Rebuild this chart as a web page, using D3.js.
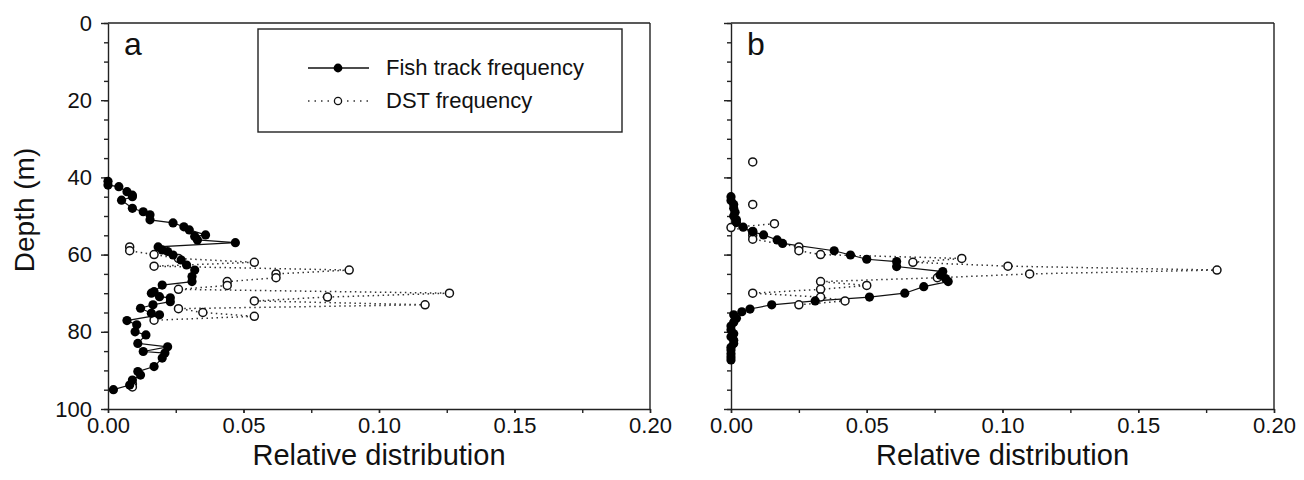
<!DOCTYPE html>
<html>
<head>
<meta charset="utf-8">
<script src="https://cdn.jsdelivr.net/npm/d3@7"></script>
<style>
  body { margin: 0; background: #fff; }
  svg { font-family: "Liberation Sans", Arial, sans-serif; }
  .axis path, .axis line { stroke: #222; stroke-width: 1.4; }
  .axis text { font-size: 22px; fill: #111; }
</style>
</head>
<body>
<svg id="chart" width="1304" height="480"></svg>
<script>
// panel a - fish track frequency (depth m, relative distribution)
var fishDepthA = [41, 42, 42.4, 43.7, 44.6, 45, 45.9, 48, 48.9, 49.7, 51, 51.8, 52.8, 53.6, 54.9, 55.3,
    56.2, 56.9, 58, 58.8, 59.2, 60.1, 61.4, 62.7, 64, 65.7, 67, 67.9, 69.6, 70, 70.9, 71.2, 72.2, 73,
    73.9, 75.2, 75.6, 77.1, 78.2, 80, 80.8, 83, 83.9, 85.1, 85.5, 86.8, 89, 90.3, 91.2, 92.5, 93.8, 95];
var fishValA = [0.000, 0.000, 0.004, 0.007, 0.009, 0.009, 0.005, 0.009, 0.013, 0.0155, 0.0155, 0.024, 0.028, 0.030, 0.036, 0.032,
    0.033, 0.047, 0.0185, 0.020, 0.022, 0.024, 0.027, 0.029, 0.032, 0.031, 0.031, 0.020, 0.017, 0.016, 0.019, 0.023, 0.023, 0.0166,
    0.012, 0.016, 0.019, 0.007, 0.0106, 0.010, 0.014, 0.011, 0.022, 0.013, 0.021, 0.020, 0.017, 0.011, 0.012, 0.009, 0.008, 0.002];

// panel a - DST frequency (null = break in line)
var dstDepthA = [58, 59, 60, 61, 62, 63, 64, 65, 66, 67, 68, 69, 70, 71, 72, 73, 74, 75, 76, 77, null, 93.5, 94.3];
var dstValA = [0.008, 0.008, 0.017, 0.026, 0.054, 0.017, 0.089, 0.062, 0.062, 0.044, 0.044, 0.026, 0.126, 0.081,
    0.054, 0.117, 0.026, 0.035, 0.054, 0.017, null, 0.009, 0.009];

// panel b - fish track frequency
var fishDepthB = [45, 46, 47, 48, 49, 50, 51, 51.7, 52.9, 54.1, 54.9, 56.2, 57.1, 59, 60.1, 61.2, 61.8, 63.1,
    64.4, 65.3, 66.2, 67, 68.3, 70, 71, 72, 73, 74.1, 74.8, 75.6, 76.5, 77.5, 78.5, 79.5, 80.5, 81.3, 82.2,
    83, 84, 84.7, 85.7, 86.5, 87.3];
var fishValB = [0.000, 0.000, 0.001, 0.001, 0.0015, 0.001, 0.002, 0.002, 0.0045, 0.008, 0.012, 0.017, 0.019, 0.038, 0.044, 0.050, 0.061, 0.061,
    0.078, 0.077, 0.079, 0.080, 0.071, 0.064, 0.051, 0.031, 0.015, 0.007, 0.004, 0.001, 0.002, 0.001, 0.000, 0.000, 0.001, 0.000, 0.001,
    0.001, 0.000, 0.000, 0.000, 0.000, 0.000];

// panel b - DST frequency
var dstDepthB = [36, null, 47, null, 52, 53, 54, 55, 56, 58, 59, 60, 61, 62, 63, 64, 65, 66, 67, 68, 69, 70, 71, 72, 73];
var dstValB = [0.008, null, 0.008, null, 0.016, 0.000, 0.008, 0.008, 0.008, 0.025, 0.025, 0.033, 0.085, 0.067, 0.102,
    0.179, 0.110, 0.076, 0.033, 0.050, 0.033, 0.008, 0.033, 0.042, 0.025];

var xTicks = [0, 0.05, 0.10, 0.15, 0.20];
var yTicks = [0, 20, 40, 60, 80, 100];

var svg = d3.select("#chart");
var yTop = 23, yBot = 409;

function zip(depths, vals) {
    return depths.map(function (d, i) { return { d: d, v: vals[i] }; });
}

function drawPanel(x0, x1, letter, showYLabels, fish, dst) {
    let x = d3.scaleLinear().domain([0, 0.2]).range([x0, x1]);
    let y = d3.scaleLinear().domain([0, 100]).range([yTop, yBot]);
    let g = svg.append("g");

    // frame top + right
    g.append("line").attr("x1", x0).attr("x2", x1).attr("y1", yTop).attr("y2", yTop)
        .attr("stroke", "#222").attr("stroke-width", 1.4);
    g.append("line").attr("x1", x1).attr("x2", x1).attr("y1", yTop).attr("y2", yBot)
        .attr("stroke", "#222").attr("stroke-width", 1.4);

    // minor ticks first
    g.append("g").attr("class", "axis").attr("transform", "translate(" + x0 + ",0)")
        .call(d3.axisLeft(y).tickValues(d3.range(0, 101, 5)).tickSize(4).tickFormat(""))
        .select(".domain").remove();
    g.append("g").attr("class", "axis").attr("transform", "translate(" + x0 + ",0)")
        .call(d3.axisLeft(y).tickValues(yTicks).tickSizeInner(7).tickSizeOuter(0).tickPadding(9)
            .tickFormat(showYLabels ? d3.format("d") : ""));
    g.append("g").attr("class", "axis").attr("transform", "translate(0," + yBot + ")")
        .call(d3.axisBottom(x).tickValues(d3.range(0, 9).map(i => i * 0.025)).tickSize(4).tickFormat(""))
        .select(".domain").remove();
    g.append("g").attr("class", "axis").attr("transform", "translate(0," + yBot + ")")
        .call(d3.axisBottom(x).tickValues(xTicks).tickSizeInner(4).tickSizeOuter(0).tickPadding(4)
            .tickFormat(d3.format(".2f")));

    g.append("text").attr("x", (x0 + x1) / 2).attr("y", 465).attr("text-anchor", "middle")
        .style("font-size", "29px").attr("fill", "#111").text("Relative distribution");

    g.append("text").attr("x", x0 + 16).attr("y", 55)
        .style("font-size", "32px").attr("fill", "#111").text(letter);

    // DST dotted line + open circles, fish solid line + filled dots
    let line = d3.line().defined(d => d.v !== null).x(d => x(d.v)).y(d => y(d.d));
    g.append("path").datum(dst).attr("d", line).attr("fill", "none")
        .attr("stroke", "#333").attr("stroke-width", 1.5).attr("stroke-dasharray", "1.5,3.5");
    g.append("path").datum(fish).attr("d", line).attr("fill", "none")
        .attr("stroke", "#111").attr("stroke-width", 1.2);

    g.selectAll("circle.dst").data(dst.filter(d => d.v !== null)).enter().append("circle")
        .attr("class", "dst").attr("cx", d => x(d.v)).attr("cy", d => y(d.d)).attr("r", 4)
        .attr("fill", "#fff").attr("stroke", "#111").attr("stroke-width", 1.5);
    g.selectAll("circle.fish").data(fish).enter().append("circle")
        .attr("class", "fish").attr("cx", d => x(d.v)).attr("cy", d => y(d.d)).attr("r", 4.6)
        .attr("fill", "#000");
    return g;
}

drawPanel(108, 650, "a", true, zip(fishDepthA, fishValA), zip(dstDepthA, dstValA));
drawPanel(731, 1274, "b", false, zip(fishDepthB, fishValB), zip(dstDepthB, dstValB));

// y axis title
svg.append("text").attr("transform", "translate(34,210) rotate(-90)")
    .attr("text-anchor", "middle").style("font-size", "28px").attr("fill", "#111").text("Depth (m)");

// legend
var leg = svg.append("g");
leg.append("rect").attr("x", 258).attr("y", 29).attr("width", 364).attr("height", 103)
    .attr("fill", "#fff").attr("stroke", "#222").attr("stroke-width", 1.4);
leg.append("line").attr("x1", 308).attr("x2", 369).attr("y1", 68).attr("y2", 68)
    .attr("stroke", "#111").attr("stroke-width", 1.4);
leg.append("circle").attr("cx", 338).attr("cy", 68).attr("r", 4.4).attr("fill", "#000");
leg.append("line").attr("x1", 308).attr("x2", 369).attr("y1", 101).attr("y2", 101)
    .attr("stroke", "#333").attr("stroke-width", 1.5).attr("stroke-dasharray", "1.5,5");
leg.append("circle").attr("cx", 338).attr("cy", 101).attr("r", 3.6)
    .attr("fill", "#fff").attr("stroke", "#111").attr("stroke-width", 1.3);
leg.append("text").attr("x", 386).attr("y", 75).style("font-size", "22px").attr("fill", "#111")
    .text("Fish track frequency");
leg.append("text").attr("x", 386).attr("y", 108).style("font-size", "22px").attr("fill", "#111")
    .text("DST frequency");
</script>
</body>
</html>
